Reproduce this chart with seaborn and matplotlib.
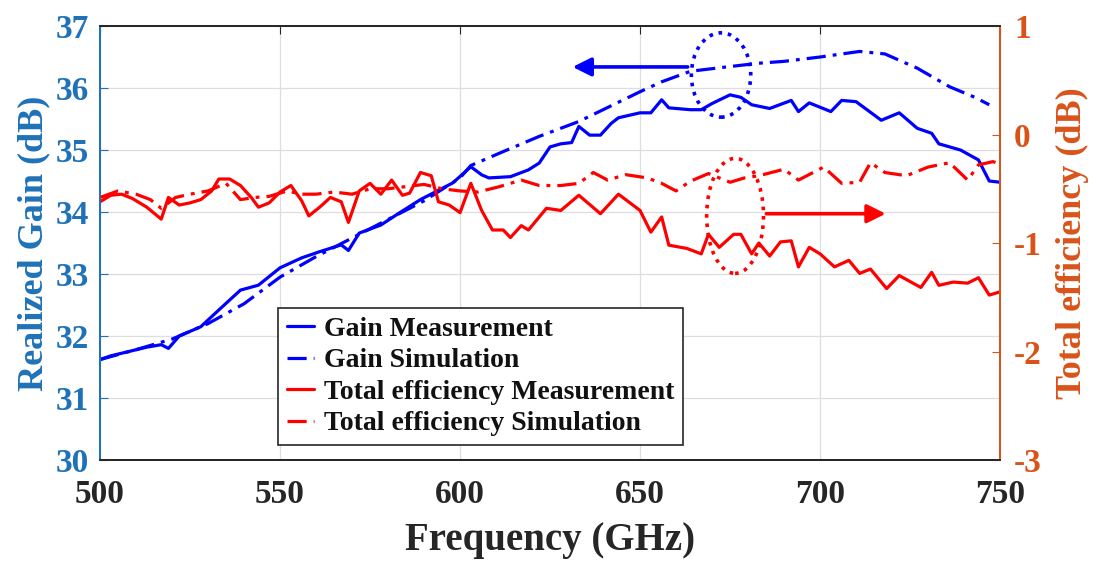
import numpy as np
import pandas as pd
import matplotlib
matplotlib.use("Agg")
import matplotlib.pyplot as plt
import seaborn as sns
from matplotlib.patches import Ellipse

# ---------------- data ----------------
gain_meas_f = [500, 503, 508, 513, 517, 519, 522, 528, 533, 539, 544, 550, 556, 561, 567, 569,
               572, 578, 583, 589, 594, 598, 603, 606, 608, 614, 619, 622, 625, 628, 631, 633,
               636, 639, 642, 644, 650, 653, 656, 658, 664, 667, 670, 675, 678, 681, 686, 692,
               694, 697, 703, 706, 710, 717, 722, 727, 731, 733, 739, 744, 747, 750]
gain_meas_v = [31.62, 31.68, 31.75, 31.82, 31.86, 31.80, 32.00, 32.15, 32.42, 32.74, 32.82, 33.10,
               33.26, 33.36, 33.47, 33.38, 33.66, 33.79, 33.98, 34.20, 34.35, 34.47, 34.73, 34.60,
               34.55, 34.57, 34.68, 34.79, 35.05, 35.10, 35.12, 35.38, 35.24, 35.24, 35.43, 35.52,
               35.60, 35.60, 35.81, 35.68, 35.65, 35.65, 35.75, 35.89, 35.85, 35.73, 35.67, 35.80,
               35.62, 35.76, 35.62, 35.80, 35.78, 35.48, 35.60, 35.35, 35.27, 35.10, 35.00, 34.84,
               34.50, 34.48]

gain_sim_f = [500, 510, 520, 530, 540, 550, 560, 570, 580, 590, 600, 603, 611, 622, 633, 650,
              656, 664, 674, 683, 690, 700, 711, 718, 727, 736, 743, 747]
gain_sim_v = [31.62, 31.78, 31.95, 32.20, 32.52, 32.95, 33.28, 33.58, 33.88, 34.18, 34.55, 34.75,
              34.95, 35.22, 35.46, 35.94, 36.10, 36.27, 36.34, 36.40, 36.43, 36.50, 36.59, 36.55,
              36.32, 36.02, 35.85, 35.73]

eff_meas_f = [500, 503, 506, 509, 513, 517, 519, 522, 525, 528, 531, 533, 536, 539, 542, 544,
              547, 550, 553, 556, 558, 561, 564, 567, 569, 572, 575, 578, 581, 584, 586, 589,
              592, 594, 597, 600, 603, 606, 609, 612, 614, 617, 619, 624, 628, 633, 639, 644,
              648, 650, 653, 656, 658, 663, 667, 669, 672, 676, 678, 681, 683, 686, 689, 692,
              694, 697, 700, 704, 708, 711, 714, 718.5, 722, 728, 731, 733, 737, 741, 744, 747, 750]
eff_meas_v = [-0.62, -0.56, -0.55, -0.59, -0.67, -0.78, -0.58, -0.65, -0.63, -0.60, -0.52, -0.41,
              -0.41, -0.47, -0.58, -0.67, -0.63, -0.53, -0.47, -0.61, -0.75, -0.67, -0.58, -0.62,
              -0.81, -0.52, -0.45, -0.55, -0.42, -0.56, -0.54, -0.35, -0.38, -0.62, -0.65, -0.72,
              -0.45, -0.70, -0.88, -0.88, -0.95, -0.84, -0.88, -0.68, -0.70, -0.56, -0.73, -0.55,
              -0.65, -0.70, -0.90, -0.76, -1.02, -1.05, -1.10, -0.92, -1.04, -0.92, -0.92, -1.10,
              -1.00, -1.12, -0.99, -0.98, -1.22, -1.04, -1.10, -1.22, -1.16, -1.28, -1.24, -1.42,
              -1.30, -1.41, -1.27, -1.39, -1.36, -1.37, -1.32, -1.48, -1.45]

eff_sim_f = [500, 505, 510, 514, 517, 521, 525, 530, 535, 539, 543, 547, 552, 556, 560, 565,
             570, 575, 580, 585, 590, 595, 600, 605, 611, 617, 622, 628, 633, 637, 641, 646,
             652, 656, 660, 664, 669, 675, 679, 683, 690, 694, 701, 706, 711, 714, 718, 724,
             730, 736, 741, 744, 748, 750]
eff_sim_v = [-0.58, -0.52, -0.55, -0.60, -0.68, -0.58, -0.55, -0.52, -0.45, -0.60, -0.58, -0.57,
             -0.52, -0.55, -0.55, -0.53, -0.55, -0.50, -0.50, -0.48, -0.46, -0.50, -0.52, -0.53,
             -0.48, -0.42, -0.47, -0.47, -0.45, -0.35, -0.42, -0.37, -0.40, -0.45, -0.52, -0.43,
             -0.36, -0.44, -0.40, -0.38, -0.32, -0.42, -0.30, -0.45, -0.44, -0.26, -0.35, -0.38,
             -0.30, -0.26, -0.42, -0.28, -0.25, -0.27]

labels = ["Gain Measurement", "Gain Simulation",
          "Total efficiency Measurement", "Total efficiency Simulation"]
x_ticks = [500, 550, 600, 650, 700, 750]
gain_ticks = [30, 31, 32, 33, 34, 35, 36, 37]
eff_ticks = [-3, -2, -1, 0, 1]

# ---------------- style ----------------
sns.set_style("white")
plt.rcParams["font.family"] = ["Liberation Serif", "DejaVu Serif"]
plt.rcParams["font.weight"] = "bold"
plt.rcParams["axes.labelweight"] = "bold"
plt.rcParams["axes.unicode_minus"] = False

C_LEFT = "#1F72B8"
C_RIGHT = "#D95319"
C_DARK = "#262626"
DASHDOT = (0, (6, 2.2, 1.2, 2.2))

fig = plt.figure(figsize=(10.98, 5.62), dpi=100)
ax = fig.add_axes([0.0911, 0.1815, 0.8197, 0.7722])
ax2 = ax.twinx()

lw = 2.3
sns.lineplot(x=gain_meas_f, y=gain_meas_v, ax=ax, color="blue", lw=lw,
             linestyle="-", label=labels[0], legend=False)
sns.lineplot(x=gain_sim_f, y=gain_sim_v, ax=ax, color="blue", lw=lw,
             linestyle=DASHDOT, label=labels[1], legend=False)
sns.lineplot(x=eff_meas_f, y=eff_meas_v, ax=ax2, color="red", lw=lw,
             linestyle="-", label=labels[2], legend=False)
sns.lineplot(x=eff_sim_f, y=eff_sim_v, ax=ax2, color="red", lw=lw,
             linestyle=DASHDOT, label=labels[3], legend=False)

ax.set_xlim(500, 750)
ax.set_ylim(30, 37)
ax2.set_ylim(-3, 1)
ax.set_xticks(x_ticks)
ax.set_yticks(gain_ticks)
ax2.set_yticks(eff_ticks)

ax.grid(True, color="#dedede", lw=0.9)
ax.set_axisbelow(True)

ax.tick_params(axis="x", direction="in", length=6, top=True, colors=C_DARK,
               labelsize=24, pad=14)
ax.tick_params(axis="y", direction="in", length=6, colors=C_LEFT, labelsize=24, pad=8)
ax2.tick_params(axis="y", direction="in", length=6, colors=C_RIGHT, labelsize=24, pad=10)
for a in (ax, ax2):
    for s in ("top", "bottom"):
        a.spines[s].set_color(C_DARK)
        a.spines[s].set_linewidth(1.3)
    a.spines["left"].set_color(C_LEFT)
    a.spines["right"].set_color(C_RIGHT)
    a.spines["left"].set_linewidth(1.3)
    a.spines["right"].set_linewidth(1.3)
ax2.tick_params(axis="x", top=False, bottom=False)

ax.set_xlabel("Frequency (GHz)", fontsize=28, color=C_DARK, labelpad=8)
ax.set_ylabel("Realized Gain (dB)", fontsize=26, color=C_LEFT, labelpad=4)
ax2.set_ylabel("Total efficiency (dB)", fontsize=26, color=C_RIGHT, labelpad=10)

# annotations: dotted ellipses and arrows
ax.add_patch(Ellipse((672.5, 36.21), 16.5, 1.36, fill=False, edgecolor="blue",
                     linestyle=(0, (1, 1.6)), lw=2.6, zorder=5))
ax.annotate("", xy=(630.5, 36.34), xytext=(664, 36.34),
            arrowprops=dict(arrowstyle="-|>", color="blue", lw=2.6, mutation_scale=28))
ax2.add_patch(Ellipse((676.4, -0.75), 15.8, 1.06, fill=False, edgecolor="red",
                      linestyle=(0, (1, 1.6)), lw=2.6, zorder=5))
ax2.annotate("", xy=(719, -0.73), xytext=(684.3, -0.73),
             arrowprops=dict(arrowstyle="-|>", color="red", lw=2.6, mutation_scale=28))

# legend
h1, l1 = ax.get_legend_handles_labels()
h2, l2 = ax2.get_legend_handles_labels()
leg = ax2.legend(h1 + h2, l1 + l2, loc="lower left", bbox_to_anchor=(0.198, 0.035),
                 borderaxespad=0, frameon=True, fancybox=False, framealpha=1,
                 edgecolor=C_DARK, fontsize=20, handlelength=1.0, handletextpad=0.35,
                 labelspacing=0.22, borderpad=0.3)
leg.get_frame().set_linewidth(1.2)
for t in leg.get_texts():
    t.set_color("#111111")

fig.savefig("out.png", dpi=100)
